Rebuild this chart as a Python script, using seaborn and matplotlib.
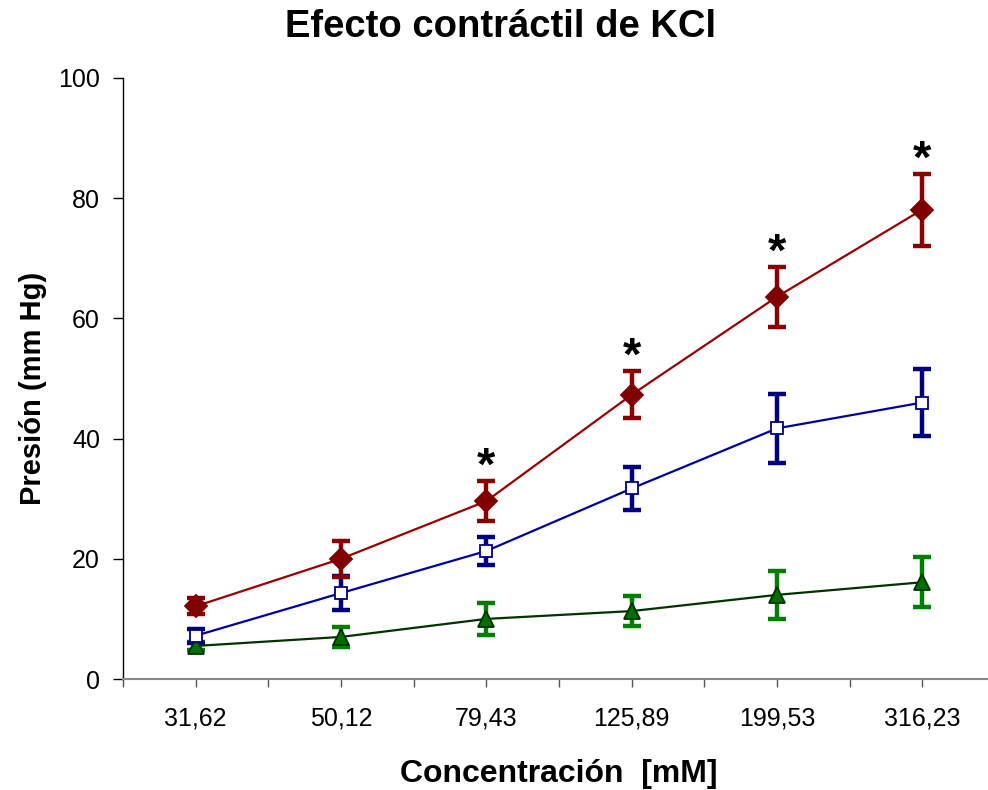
import numpy as np
import pandas as pd
import matplotlib
matplotlib.use("Agg")
import matplotlib.pyplot as plt
import seaborn as sns

# Concentraciones de KCl (mM) y respuesta contráctil (mm Hg)
concentraciones = ["31,62", "50,12", "79,43", "125,89", "199,53", "316,23"]
grupo_a = [12.1, 20.0, 29.6, 47.3, 63.6, 78.1]
grupo_a_err = [1.3, 3.0, 3.3, 3.9, 5.0, 6.0]
grupo_b = [7.2, 14.3, 21.3, 31.7, 41.7, 46.0]
grupo_b_err = [1.2, 2.8, 2.4, 3.5, 5.7, 5.5]
grupo_c = [5.5, 7.0, 10.0, 11.3, 14.0, 16.1]
grupo_c_err = [0.6, 1.7, 2.6, 2.5, 4.0, 4.2]
significativo = [False, False, True, True, True, True]

sns.set_theme(style="white")
plt.rcParams["font.family"] = ["Liberation Sans", "DejaVu Sans"]
plt.rcParams["text.color"] = "black"
plt.rcParams["axes.labelcolor"] = "black"
plt.rcParams["xtick.color"] = "black"
plt.rcParams["ytick.color"] = "black"

pos = np.arange(len(concentraciones))
df = pd.DataFrame({
    "pos": np.tile(pos, 3),
    "presion": grupo_a + grupo_b + grupo_c,
    "error": grupo_a_err + grupo_b_err + grupo_c_err,
    "grupo": ["A"] * 6 + ["B"] * 6 + ["C"] * 6,
})

fig = plt.figure(figsize=(9.88, 7.9), dpi=100)
ax = fig.add_axes([0.1245, 0.1405, 0.8826, 0.7608])

estilos = {
    "A": dict(line="#990000", err="#8B0000", marker="D", mfc="#800000", mec="#800000", ms=11),
    "B": dict(line="#0000A0", err="#000080", marker="s", mfc="white", mec="#000080", ms=8),
    "C": dict(line="#003300", err="#008000", marker="^", mfc="#007000", mec="#003000", ms=11),
}

for g in ["C", "B", "A"]:
    sub = df[df["grupo"] == g]
    st = estilos[g]
    ax.errorbar(sub["pos"], sub["presion"], yerr=sub["error"], fmt="none",
                ecolor=st["err"], elinewidth=3.2, capsize=6.5, capthick=3.2, zorder=2)
    sns.lineplot(data=sub, x="pos", y="presion", ax=ax, color=st["line"],
                 linewidth=1.6, marker=st["marker"], markersize=st["ms"],
                 markerfacecolor=st["mfc"], markeredgecolor=st["mec"],
                 markeredgewidth=1.3, zorder=3, legend=False)

# Asteriscos de significación sobre la serie A
for x, y, e, s in zip(pos, grupo_a, grupo_a_err, significativo):
    if s:
        ax.text(x, y + e + 0.2, "*", ha="center", va="baseline",
                fontsize=34, fontweight="bold", color="black")

ax.set_xlim(-0.5, 5.5)
ax.set_ylim(0, 100)
ax.set_yticks([0, 20, 40, 60, 80, 100])
ax.set_xticks(pos)
ax.set_xticklabels(concentraciones)
ax.set_xticks(np.arange(-0.5, 6.0, 1.0), minor=True)

ax.tick_params(axis="y", which="major", direction="out", length=7, width=1,
               color="black", labelsize=18, pad=9.5, left=True)
ax.tick_params(axis="x", which="both", direction="out", length=6, width=1,
               color="#555555", labelsize=18, pad=14, bottom=True)

for sp in ["top", "right"]:
    ax.spines[sp].set_visible(False)
ax.spines["left"].set_color("black")
ax.spines["left"].set_linewidth(1)
ax.spines["bottom"].set_color("#888888")
ax.spines["bottom"].set_linewidth(1.5)

ax.set_xlabel("Concentración  [mM]", fontsize=23, fontweight="bold", labelpad=20)
ax.set_ylabel("Presión (mm Hg)", fontsize=21, fontweight="bold")
ax.yaxis.set_label_coords(-0.087, 0.484)
fig.text(0.507, 0.966, "Efecto contráctil de KCl", ha="center", va="center",
         fontsize=27.5, fontweight="bold")

fig.savefig("out.png", dpi=100)
